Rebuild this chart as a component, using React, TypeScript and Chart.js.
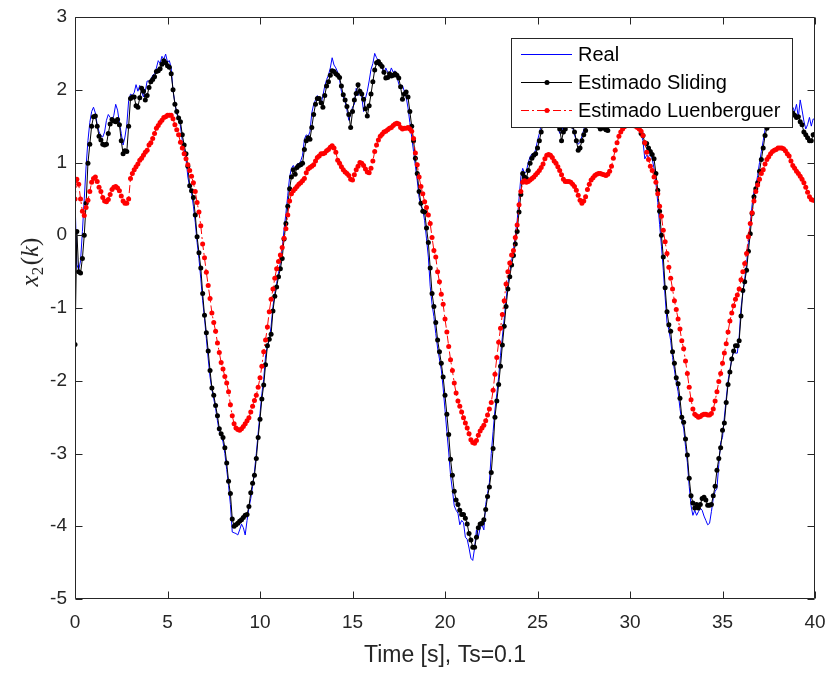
import React, { useEffect, useRef } from "react";
import { Chart, registerables } from "chart.js";

Chart.register(...registerables);

const TS = 0.1;
const X_TICKS = [0, 5, 10, 15, 20, 25, 30, 35, 40];
const Y_TICKS = [-5, -4, -3, -2, -1, 0, 1, 2, 3];
const X_TITLE = "Time [s], Ts=0.1";
const SERIES_NAMES = ["Real", "Estimado Sliding", "Estimado Luenberguer"];

// x2(k) real, one value per sample (Ts = 0.1 s), rows = 1 s
const REAL = [
  0.50, -0.40, -0.48, -0.35, 0.05, 0.50, 0.95, 1.30, 1.55, 1.70,
  1.76, 1.68, 1.52, 1.42, 1.37, 1.35, 1.42, 1.58, 1.66, 1.62,
  1.58, 1.65, 1.80, 1.72, 1.55, 1.40, 1.24, 1.35, 1.52, 1.85,
  1.94, 1.92, 1.96, 2.07, 1.98, 2.06, 1.98, 1.90, 1.98, 2.12,
  2.12, 2.14, 2.20, 2.22, 2.30, 2.40, 2.36, 2.46, 2.42, 2.49,
  2.38, 2.40, 2.30, 1.98, 1.82, 1.66, 1.62, 1.50, 1.30, 1.18,
  1.05, 0.80, 0.66, 0.58, 0.40, 0.18, -0.10, -0.32, -0.60, -0.90,
  -1.14, -1.42, -1.70, -1.95, -2.12, -2.25, -2.38, -2.55, -2.70, -2.76,
  -2.84, -3.00, -3.22, -3.44, -3.70, -4.08, -4.09, -4.10, -4.12, -4.05,
  -3.97, -4.02, -4.12, -3.92, -3.75, -3.62, -3.45, -3.25, -3.00, -2.72,
  -2.45, -2.18, -1.98, -1.66, -1.52, -1.44, -1.25, -0.98, -0.80, -0.66,
  -0.52, -0.38, -0.18, 0.08, 0.30, 0.55, 0.80, 0.92, 0.96, 0.90,
  0.98, 0.98, 1.02, 1.10, 1.32, 1.38, 1.36, 1.42, 1.68, 1.80,
  1.86, 1.92, 1.86, 1.80, 1.92, 2.05, 2.14, 2.20, 2.30, 2.44,
  2.34, 2.30, 2.24, 2.14, 1.98, 1.90, 1.84, 1.72, 1.58, 1.66,
  1.76, 1.80, 2.02, 1.92, 2.00, 1.90, 1.70, 1.88, 1.98, 2.12,
  2.28, 2.36, 2.50, 2.44, 2.40, 2.38, 2.30, 2.22, 2.30, 2.24,
  2.22, 2.30, 2.24, 2.26, 2.18, 2.08, 2.02, 2.06, 1.98, 1.90,
  1.75, 1.55, 1.35, 1.15, 0.95, 0.75, 0.52, 0.40, 0.35, 0.20,
  -0.05, -0.30, -0.70, -0.95, -1.12, -1.35, -1.55, -1.70, -1.85, -2.10,
  -2.40, -2.70, -2.98, -3.30, -3.50, -3.72, -3.78, -3.82, -3.98, -3.92,
  -3.95, -4.15, -4.18, -4.30, -4.44, -4.47, -4.30, -4.05, -4.15, -4.02,
  -3.98, -4.05, -3.70, -3.55, -3.40, -3.00, -2.70, -2.40, -2.18, -1.95,
  -1.65, -1.40, -1.15, -0.88, -0.66, -0.50, -0.35, -0.20, 0.00, 0.20,
  0.50, 0.80, 0.92, 0.85, 0.88, 1.00, 1.08, 1.12, 1.10, 1.18,
  1.30, 1.40, 1.52, 1.65, 1.75, 1.80, 1.78, 1.72, 1.70, 1.72,
  1.62, 1.50, 1.40, 1.42, 1.52, 1.55, 1.68, 1.70, 1.62, 1.48,
  1.38, 1.30, 1.25, 1.28, 1.36, 1.45, 1.55, 1.64, 1.72, 1.76,
  1.70, 1.62, 1.58, 1.52, 1.50, 1.55, 1.50, 1.48, 1.52, 1.62,
  1.78, 1.95, 2.05, 2.12, 2.16, 2.08, 2.02, 2.06, 1.98, 1.88,
  1.80, 1.74, 1.68, 1.62, 1.56, 1.48, 1.40, 1.30, 1.05, 1.10,
  1.08, 1.12, 1.05, 0.92, 0.72, 0.45, 0.15, -0.15, -0.48, -0.85,
  -1.20, -1.30, -1.45, -1.68, -1.85, -2.02, -2.15, -2.38, -2.55, -2.65,
  -2.90, -3.12, -3.45, -3.72, -3.85, -3.78, -3.85, -3.80, -3.75, -3.78,
  -3.86, -3.92, -3.98, -3.96, -3.80, -3.62, -3.52, -3.48, -3.15, -2.85,
  -2.78, -2.50, -2.25, -2.00, -1.85, -1.70, -1.60, -1.62, -1.62, -1.40,
  -1.00, -0.80, -0.60, -0.40, -0.10, 0.15, 0.42, 0.60, 0.68, 0.82,
  1.00, 1.15, 1.30, 1.45, 1.55, 1.65, 1.72, 1.78, 1.76, 1.82,
  1.88, 1.84, 1.80, 1.76, 1.78, 1.74, 1.70, 1.72, 1.76, 1.70,
  1.80, 1.62, 1.86, 1.72, 1.57, 1.46, 1.52, 1.62, 1.50, 1.60,
  1.58,
];

// Sliding-mode estimate
const SLIDING = [
  -1.50, 0.05, -0.50, -0.52, -0.32, 0.00, 0.44, 0.99, 1.25, 1.50,
  1.63, 1.64, 1.50, 1.36, 1.31, 1.25, 1.24, 1.25, 1.40, 1.53,
  1.59, 1.57, 1.56, 1.59, 1.52, 1.30, 1.12, 1.16, 1.15, 1.50,
  1.88, 1.90, 1.90, 1.78, 1.76, 1.89, 2.02, 1.98, 1.86, 1.92,
  2.03, 2.11, 2.14, 2.18, 2.25, 2.26, 2.29, 2.35, 2.40, 2.37,
  2.33, 2.31, 2.22, 2.00, 1.80, 1.70, 1.61, 1.56, 1.38, 1.24,
  1.12, 0.95, 0.68, 0.61, 0.52, 0.28, -0.02, -0.24, -0.45, -0.80,
  -1.10, -1.34, -1.59, -1.86, -2.10, -2.20, -2.34, -2.48, -2.66, -2.73,
  -2.78, -2.92, -3.13, -3.38, -3.55, -3.90, -4.00, -3.98, -3.96, -3.93,
  -3.91, -3.88, -3.85, -3.84, -3.73, -3.54, -3.41, -3.30, -3.07, -2.78,
  -2.53, -2.25, -2.06, -1.78, -1.52, -1.43, -1.36, -1.04, -0.84, -0.71,
  -0.57, -0.46, -0.32, -0.05, 0.16, 0.40, 0.64, 0.80, 0.90, 0.84,
  0.93, 0.96, 0.97, 0.99, 1.18, 1.30, 1.34, 1.32, 1.48, 1.66,
  1.80, 1.88, 1.88, 1.82, 1.76, 1.92, 2.05, 2.11, 2.20, 2.26,
  2.25, 2.22, 2.20, 2.17, 2.05, 1.93, 1.86, 1.77, 1.66, 1.48,
  1.70, 1.86, 1.95, 2.07, 1.98, 1.94, 1.87, 1.74, 1.64, 1.78,
  1.94, 2.11, 2.27, 2.37, 2.39, 2.35, 2.32, 2.24, 2.16, 2.17,
  2.22, 2.19, 2.20, 2.22, 2.20, 2.16, 2.04, 1.87, 1.94, 1.97,
  1.90, 1.70, 1.50, 1.30, 1.06, 0.85, 0.60, 0.44, 0.33, 0.32,
  0.10, -0.10, -0.45, -0.80, -0.98, -1.20, -1.44, -1.60, -1.76, -1.95,
  -2.20, -2.46, -2.74, -3.08, -3.30, -3.52, -3.64, -3.70, -3.78, -3.84,
  -3.84, -3.89, -3.97, -4.10, -4.19, -4.29, -4.29, -4.15, -4.02, -3.97,
  -3.96, -3.91, -3.77, -3.59, -3.46, -3.26, -2.93, -2.50, -2.28, -2.05,
  -1.80, -1.51, -1.25, -0.98, -0.74, -0.57, -0.41, -0.28, -0.12, 0.05,
  0.32, 0.56, 0.85, 0.80, 0.78, 0.89, 0.99, 1.06, 1.10, 1.12,
  1.20, 1.30, 1.42, 1.55, 1.66, 1.72, 1.75, 1.70, 1.62, 1.68,
  1.60, 1.52, 1.46, 1.30, 1.42, 1.46, 1.58, 1.65, 1.60, 1.50,
  1.42, 1.30, 1.17, 1.20, 1.30, 1.38, 1.44, 1.55, 1.62, 1.70,
  1.66, 1.60, 1.55, 1.50, 1.46, 1.50, 1.47, 1.45, 1.44, 1.52,
  1.68, 1.85, 1.98, 2.05, 2.10, 2.02, 1.95, 2.00, 1.96, 1.85,
  1.78, 1.72, 1.66, 1.60, 1.55, 1.50, 1.40, 1.37, 1.27, 1.26,
  1.20, 1.15, 1.11, 1.05, 0.85, 0.62, 0.33, 0.00, -0.30, -0.72,
  -1.05, -1.23, -1.32, -1.60, -1.76, -1.96, -2.04, -2.24, -2.50, -2.57,
  -2.80, -3.02, -3.34, -3.58, -3.68, -3.75, -3.70, -3.75, -3.70, -3.62,
  -3.60, -3.64, -3.71, -3.71, -3.70, -3.58, -3.45, -3.23, -3.07, -2.92,
  -2.68, -2.58, -2.30, -2.05, -1.88, -1.70, -1.59, -1.52, -1.52, -1.45,
  -1.11, -0.76, -0.64, -0.48, -0.22, 0.02, 0.30, 0.53, 0.64, 0.72,
  0.88, 1.04, 1.20, 1.37, 1.47, 1.58, 1.66, 1.72, 1.70, 1.76,
  1.82, 1.78, 1.74, 1.70, 1.72, 1.68, 1.64, 1.66, 1.68, 1.65,
  1.62, 1.63, 1.56, 1.52, 1.42, 1.38, 1.34, 1.30, 1.30, 1.38,
  1.39,
];

// Luenberger-observer estimate
const LUENBERGER = [
  0.50, 0.77, 0.70, 0.50, 0.33, 0.27, 0.38, 0.48, 0.60, 0.73,
  0.78, 0.80, 0.74, 0.66, 0.60, 0.52, 0.47, 0.46, 0.49, 0.56,
  0.63, 0.66, 0.67, 0.65, 0.61, 0.54, 0.47, 0.44, 0.44, 0.50,
  0.78, 0.85, 0.90, 0.94, 0.98, 1.03, 1.06, 1.10, 1.14, 1.17,
  1.24, 1.27, 1.33, 1.40, 1.47, 1.51, 1.55, 1.58, 1.62, 1.63,
  1.65, 1.65, 1.65, 1.60, 1.52, 1.45, 1.38, 1.28, 1.20, 1.12,
  1.05, 0.97, 0.89, 0.81, 0.72, 0.60, 0.45, 0.32, 0.13, -0.12,
  -0.31, -0.51, -0.69, -0.87, -1.07, -1.20, -1.32, -1.48, -1.61, -1.75,
  -1.84, -1.94, -2.03, -2.15, -2.33, -2.48, -2.59, -2.65, -2.67, -2.68,
  -2.66, -2.63, -2.59, -2.55, -2.51, -2.43, -2.35, -2.27, -2.20, -2.09,
  -1.96, -1.80, -1.60, -1.44, -1.26, -1.05, -0.88, -0.74, -0.59, -0.46,
  -0.36, -0.27, -0.17, -0.04, 0.09, 0.28, 0.47, 0.57, 0.61, 0.64,
  0.67, 0.70, 0.72, 0.75, 0.78, 0.86, 0.91, 0.93, 0.95, 0.97,
  1.02, 1.07, 1.09, 1.12, 1.12, 1.13, 1.16, 1.18, 1.21, 1.23,
  1.20, 1.14, 1.03, 0.99, 0.94, 0.90, 0.87, 0.85, 0.82, 0.77,
  0.76, 0.83, 0.90, 0.95, 1.00, 0.99, 0.96, 0.91, 0.87, 0.86,
  0.92, 1.02, 1.15, 1.24, 1.31, 1.36, 1.39, 1.42, 1.43, 1.45,
  1.47, 1.48, 1.51, 1.53, 1.54, 1.53, 1.48, 1.46, 1.47, 1.47,
  1.48, 1.46, 1.43, 1.33, 1.13, 0.97, 0.80, 0.67, 0.57, 0.46,
  0.38, 0.28, 0.16, -0.03, -0.21, -0.30, -0.50, -0.64, -0.81, -0.95,
  -1.15, -1.33, -1.53, -1.71, -1.86, -2.03, -2.17, -2.28, -2.35, -2.43,
  -2.51, -2.58, -2.65, -2.73, -2.81, -2.85, -2.86, -2.82, -2.75, -2.69,
  -2.65, -2.61, -2.55, -2.47, -2.39, -2.30, -2.13, -1.91, -1.68, -1.47,
  -1.28, -1.09, -0.90, -0.67, -0.50, -0.38, -0.27, -0.21, -0.03, 0.14,
  0.42, 0.60, 0.73, 0.75, 0.73, 0.74, 0.76, 0.78, 0.80, 0.83,
  0.86, 0.89, 0.93, 0.98, 1.05, 1.10, 1.11, 1.10, 1.07, 1.02,
  0.99, 0.94, 0.89, 0.83, 0.77, 0.74, 0.74, 0.74, 0.73, 0.70,
  0.67, 0.62, 0.55, 0.48, 0.44, 0.47, 0.53, 0.63, 0.70, 0.76,
  0.79, 0.82, 0.84, 0.85, 0.85, 0.84, 0.83, 0.82, 0.84, 0.88,
  0.95, 1.06, 1.17, 1.27, 1.36, 1.42, 1.46, 1.49, 1.51, 1.52,
  1.52, 1.52, 1.51, 1.50, 1.48, 1.46, 1.43, 1.37, 1.27, 1.14,
  1.04, 0.95, 0.89, 0.80, 0.73, 0.57, 0.40, 0.26, 0.07, -0.09,
  -0.25, -0.44, -0.59, -0.74, -0.90, -1.02, -1.15, -1.29, -1.45, -1.56,
  -1.73, -1.90, -2.09, -2.26, -2.39, -2.46, -2.48, -2.50, -2.49, -2.47,
  -2.46, -2.46, -2.47, -2.47, -2.45, -2.39, -2.28, -2.15, -2.01, -1.90,
  -1.76, -1.62, -1.49, -1.33, -1.18, -1.07, -0.97, -0.88, -0.82, -0.74,
  -0.61, -0.50, -0.39, -0.25, -0.02, 0.16, 0.31, 0.47, 0.60, 0.69,
  0.77, 0.85, 0.90, 0.98, 1.04, 1.08, 1.12, 1.15, 1.17, 1.18,
  1.20, 1.20, 1.20, 1.19, 1.16, 1.12, 1.09, 1.02, 0.96, 0.92,
  0.88, 0.85, 0.81, 0.77, 0.72, 0.66, 0.59, 0.53, 0.49, 0.48,
  0.48,
];

const TIME = REAL.map((_, i) => Math.round(i * TS * 10) / 10);

const AXIS_COLOR = "#262626";
const FONT = "'Liberation Sans', Arial, Helvetica, sans-serif";
const SERIF = "'Liberation Serif', 'DejaVu Serif', serif";

const toPoints = (vals: number[]) => vals.map((v, i) => ({ x: TIME[i], y: v }));

const framePlugin = {
  id: "matlabFrame",
  afterDatasetsDraw(chart: any) {
    const { ctx, chartArea: a, scales } = chart;
    const xs = scales.x;
    const ys = scales.y;
    ctx.save();
    ctx.strokeStyle = AXIS_COLOR;
    ctx.lineWidth = 1;
    const L = Math.round(a.left) + 0.5;
    const R = Math.round(a.right) - 0.5;
    const T = Math.round(a.top) + 0.5;
    const B = Math.round(a.bottom) - 0.5;
    const TL = 7;
    ctx.beginPath();
    ctx.rect(L, T, R - L, B - T);
    X_TICKS.forEach((v) => {
      const px = Math.round(xs.getPixelForValue(v)) + 0.5;
      ctx.moveTo(px, B);
      ctx.lineTo(px, B - TL);
      ctx.moveTo(px, T);
      ctx.lineTo(px, T + TL);
    });
    Y_TICKS.forEach((v) => {
      const py = Math.round(ys.getPixelForValue(v)) + 0.5;
      ctx.moveTo(L, py);
      ctx.lineTo(L + TL, py);
      ctx.moveTo(R, py);
      ctx.lineTo(R - TL, py);
    });
    ctx.stroke();

    // legend
    const lx = 511.5, ly = 38.5, lw = 281, lh = 89;
    ctx.fillStyle = "#ffffff";
    ctx.fillRect(lx, ly, lw, lh);
    ctx.strokeStyle = AXIS_COLOR;
    ctx.strokeRect(lx, ly, lw, lh);
    const rows = [54, 82, 110];
    chart.data.datasets.forEach((ds: any, i: number) => {
      const ry = rows[i] + 0.5;
      ctx.save();
      ctx.strokeStyle = ds.borderColor;
      ctx.lineWidth = ds.borderWidth;
      ctx.setLineDash(ds.borderDash || []);
      ctx.beginPath();
      ctx.moveTo(521, ry);
      ctx.lineTo(572, ry);
      ctx.stroke();
      ctx.setLineDash([]);
      if (ds.pointRadius > 0) {
        ctx.fillStyle = ds.backgroundColor;
        ctx.beginPath();
        ctx.arc(547, ry, ds.pointRadius, 0, Math.PI * 2);
        ctx.fill();
      }
      ctx.fillStyle = "#000000";
      ctx.font = `20px ${FONT}`;
      ctx.textBaseline = "middle";
      ctx.textAlign = "left";
      ctx.fillText(SERIES_NAMES[i], 578, ry + 1);
      ctx.restore();
    });

    // x title
    ctx.fillStyle = AXIS_COLOR;
    ctx.font = `23px ${FONT}`;
    ctx.textAlign = "center";
    ctx.textBaseline = "middle";
    ctx.fillText(X_TITLE, (a.left + a.right) / 2, 656);

    // y title: x_2(k) in LaTeX-like style
    ctx.save();
    ctx.translate(31, 262);
    ctx.rotate(-Math.PI / 2);
    ctx.textAlign = "left";
    ctx.textBaseline = "alphabetic";
    const parts = [
      { t: "x", f: `italic 25px ${SERIF}`, dy: 0 },
      { t: "2", f: `17px ${SERIF}`, dy: 5 },
      { t: "(", f: `25px ${SERIF}`, dy: 0 },
      { t: "k", f: `italic 25px ${SERIF}`, dy: 0 },
      { t: ")", f: `25px ${SERIF}`, dy: 0 },
    ];
    let total = 0;
    parts.forEach((p) => {
      ctx.font = p.f;
      total += ctx.measureText(p.t).width + (p.t === "2" ? 1.5 : 0);
    });
    let cx = -total / 2;
    parts.forEach((p) => {
      ctx.font = p.f;
      ctx.fillText(p.t, cx, 7 + p.dy);
      cx += ctx.measureText(p.t).width + (p.t === "2" ? 1.5 : 0);
    });
    ctx.restore();
    ctx.restore();
  },
};

export default function App() {
  const ref = useRef<HTMLCanvasElement | null>(null);
  useEffect(() => {
    if (!ref.current) return;
    const chart = new Chart(ref.current, {
      type: "line",
      data: {
        datasets: [
          {
            label: SERIES_NAMES[0],
            data: toPoints(REAL),
            borderColor: "#0000ff",
            backgroundColor: "#0000ff",
            borderWidth: 1,
            pointRadius: 0,
            tension: 0,
            order: 2,
          },
          {
            label: SERIES_NAMES[1],
            data: toPoints(SLIDING),
            borderColor: "#000000",
            backgroundColor: "#000000",
            borderWidth: 1,
            pointRadius: 2.5,
            pointBorderWidth: 0,
            pointHoverRadius: 2.5,
            tension: 0,
            order: 1,
          },
          {
            label: SERIES_NAMES[2],
            data: toPoints(LUENBERGER),
            borderColor: "#ff0000",
            backgroundColor: "#ff0000",
            borderWidth: 1,
            borderDash: [8, 3, 2, 3],
            pointRadius: 2.5,
            pointBorderWidth: 0,
            pointHoverRadius: 2.5,
            tension: 0,
            order: 0,
          },
        ] as any,
      },
      options: {
        responsive: false,
        maintainAspectRatio: false,
        animation: false,
        devicePixelRatio: 1,
        events: [],
        layout: { padding: { top: 17, right: 13, left: 0, bottom: 0 } },
        plugins: {
          legend: { display: false },
          tooltip: { enabled: false },
        },
        scales: {
          x: {
            type: "linear",
            min: 0,
            max: 40,
            afterBuildTicks: (s: any) => {
              s.ticks = X_TICKS.map((v) => ({ value: v }));
            },
            afterFit: (s: any) => {
              s.height = 76;
              s.paddingLeft = 0;
              s.paddingRight = 0;
            },
            grid: { display: false, drawTicks: false, tickLength: 0 },
            border: { display: false },
            ticks: {
              color: AXIS_COLOR,
              font: { family: FONT, size: 19 },
              padding: 12,
              maxRotation: 0,
              autoSkip: false,
              callback: (v: any) => String(v),
            },
          },
          y: {
            type: "linear",
            min: -5,
            max: 3,
            afterBuildTicks: (s: any) => {
              s.ticks = Y_TICKS.map((v) => ({ value: v }));
            },
            afterFit: (s: any) => {
              s.width = 75;
              s.paddingTop = 0;
              s.paddingBottom = 0;
            },
            grid: { display: false, drawTicks: false, tickLength: 0 },
            border: { display: false },
            ticks: {
              color: AXIS_COLOR,
              font: { family: FONT, size: 19 },
              padding: 8,
              autoSkip: false,
              callback: (v: any) => String(v),
            },
          },
        },
      } as any,
      plugins: [framePlugin],
    });
    return () => chart.destroy();
  }, []);

  return (
    <div style={{ position: "absolute", left: 0, top: 0, width: 828, height: 675, background: "#ffffff" }}>
      <canvas ref={ref} width={828} height={675} style={{ width: 828, height: 675, display: "block" }} />
    </div>
  );
}
